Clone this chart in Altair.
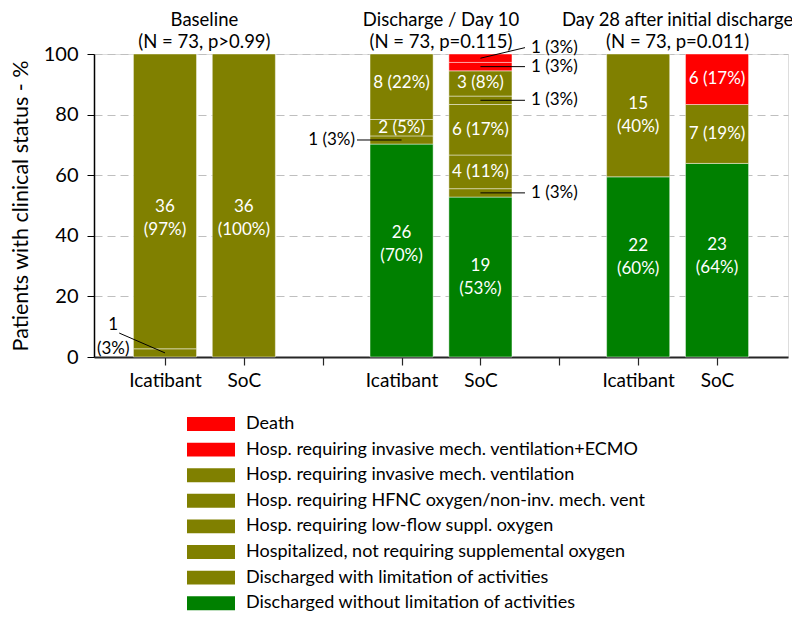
import altair as alt
import pandas as pd

# ---------------- data ----------------
panels = ["Baseline", "Discharge / Day 10", "Day 28 after initial discharge"]
panel_stats = ["(N = 73, p>0.99)", "(N = 73, p=0.115)", "(N = 73, p=0.011)"]
arms = ["Icatibant", "SoC"]
arm_n = [37, 36]

# categories, bottom of the stack -> top
categories = [
    "Discharged without limitation of activities",
    "Discharged with limitation of activities",
    "Hospitalized, not requiring supplemental oxygen",
    "Hosp. requiring low-flow suppl. oxygen",
    "Hosp. requiring HFNC oxygen/non-inv. mech. vent",
    "Hosp. requiring invasive mech. ventilation",
    "Hosp. requiring invasive mech. ventilation+ECMO",
    "Death",
]
cat_colors = ["#008000", "#808000", "#808000", "#808000",
              "#808000", "#808000", "#ff0000", "#ff0000"]

# patient counts per bar [panel][arm][category]
counts = [
    [[0, 0, 1, 36, 0, 0, 0, 0], [0, 0, 0, 36, 0, 0, 0, 0]],
    [[26, 1, 2, 8, 0, 0, 0, 0], [19, 1, 4, 6, 1, 3, 1, 1]],
    [[22, 15, 0, 0, 0, 0, 0, 0], [23, 7, 0, 0, 0, 0, 0, 6]],
]
# printed percentages
pcts = [
    [[0, 0, 3, 97, 0, 0, 0, 0], [0, 0, 0, 100, 0, 0, 0, 0]],
    [[70, 3, 5, 22, 0, 0, 0, 0], [53, 3, 11, 17, 3, 8, 3, 3]],
    [[60, 40, 0, 0, 0, 0, 0, 0], [64, 19, 0, 0, 0, 0, 0, 17]],
]
# label placement nudges (percentage points) for some in-bar labels
label_nudge = {(0, 0, 3): -5.6, (0, 1, 3): -4.3, (1, 0, 0): 2.1,
               (2, 0, 0): 3.1, (2, 1, 0): 1.2, (1, 0, 3): 1.2}

# callouts for small segments: panel, arm, category
callout_panel = [0, 1, 1, 1, 1, 1]
callout_arm = [0, 0, 1, 1, 1, 1]
callout_cat = [2, 1, 7, 6, 4, 1]
callout_side = ["stack", "left", "right", "right", "right", "right"]
callout_dx = [-0.58, -0.565, 0.565, 0.565, 0.565, 0.565]
callout_end_y = [7.9, None, 102.1, None, None, None]

FONT = "Lato"
BAR_HALF = 0.4

# ---------------- tables ----------------
rows = []
for p, panel in enumerate(panels):
    for a, arm in enumerate(arms):
        n = arm_n[a]
        xc = 3 * p + a + 1
        cum = 0
        for k, cat in enumerate(categories):
            c = counts[p][a][k]
            if c == 0:
                continue
            y0 = cum / n * 100
            cum += c
            y1 = cum / n * 100
            pc = pcts[p][a][k]
            two = pc >= 30
            label = f"{c}\n({pc}%)" if two else f"{c} ({pc}%)"
            ymid = (y0 + y1) / 2
            rows.append(dict(panel=panel, arm=arm, xc=xc,
                             x0=xc - BAR_HALF, x1=xc + BAR_HALF,
                             y0=y0, y1=y1, ymid=ymid,
                             ylab=ymid + label_nudge.get((p, a, k), 0.0),
                             count=c, pct=pc, category=cat, order=k,
                             label=label, lines=2 if two else 1))
bars = pd.DataFrame(rows)

crow = []
for i in range(len(callout_panel)):
    p, a, k = callout_panel[i], callout_arm[i], callout_cat[i]
    seg = bars[(bars.panel == panels[p]) & (bars.arm == arms[a]) &
               (bars.category == categories[k])].iloc[0]
    ey = callout_end_y[i] if callout_end_y[i] is not None else seg.ymid
    txt = (f"{seg['count']}\n({seg.pct}%)" if callout_side[i] == "stack"
           else f"{seg['count']} ({seg.pct}%)")
    crow.append(dict(xs=seg.xc, ys=seg.ymid, xe=seg.xc + callout_dx[i],
                     ye=ey, text=txt, side=callout_side[i]))
callouts = pd.DataFrame(crow)

titles = pd.DataFrame(dict(xc=[3 * p + 1.5 for p in range(len(panels))],
                           title=panels, stats=panel_stats))

# ---------------- chart ----------------
xscale = alt.Scale(domain=[0.1, 8.9], nice=False, zero=False)
yscale = alt.Scale(domain=[0, 100], nice=False)

label_expr = (f"datum.value % 3 == 1 ? '{arms[0]}' : "
              f"(datum.value % 3 == 2 ? '{arms[1]}' : '')")

x_axis = alt.Axis(values=list(range(1, 9)), labelExpr=label_expr,
                  title=None, grid=False, tickSize=8, tickColor="#262626",
                  tickWidth=1.2, domainColor="#262626", domainWidth=2,
                  labelFont=FONT, labelFontSize=19, labelColor="black",
                  labelPadding=15, labelBaseline="middle", labelFlush=False,
                  labelOverlap=False)
y_axis = alt.Axis(values=[0, 20, 40, 60, 80, 100], title="Patients with clinical status - %",
                  grid=True, gridDash=[8, 5], gridColor="#bfbfbf", gridWidth=1,
                  tickSize=7, tickColor="black", domainColor="black", domainWidth=1.5,
                  labelFont=FONT, labelFontSize=20, labelColor="black", labelPadding=9,
                  titleFont=FONT, titleFontSize=21.5, titleFontWeight="normal",
                  titleColor="black", titlePadding=11)

legend = alt.Legend(orient="none", legendX=108, legendY=361, title=None,
                    symbolType="M-4,-1.16H4V1.16H-4Z", symbolSize=144,
                    symbolStrokeWidth=0, symbolOpacity=1,
                    labelFont=FONT, labelFontSize=18, labelColor="black",
                    labelOffset=26, labelLimit=700, rowPadding=7.6, padding=0)

bar_layer = alt.Chart(bars).mark_rect(stroke="white", strokeWidth=1,
                                      strokeOpacity=0.45).encode(
    x=alt.X("x0:Q", scale=xscale, axis=x_axis),
    x2="x1:Q",
    y=alt.Y("y0:Q", scale=yscale, axis=y_axis),
    y2="y1:Q",
    color=alt.Color("category:N",
                    scale=alt.Scale(domain=categories[::-1], range=cat_colors[::-1]),
                    legend=legend),
)

inside1 = alt.Chart(bars).transform_filter("datum.count >= 2 && datum.lines == 1").mark_text(
    font=FONT, fontSize=17, color="white",
    baseline="middle", align="center").encode(
    x=alt.X("xc:Q", scale=xscale), y=alt.Y("ylab:Q", scale=yscale), text="label:N")
inside2 = alt.Chart(bars).transform_filter("datum.count >= 2 && datum.lines == 2").mark_text(
    font=FONT, fontSize=17, color="white", lineBreak="\n", lineHeight=23,
    baseline="middle", align="center", dy=-11.5).encode(
    x=alt.X("xc:Q", scale=xscale), y=alt.Y("ylab:Q", scale=yscale), text="label:N")

rules = alt.Chart(callouts).mark_rule(color="black", strokeWidth=1).encode(
    x=alt.X("xs:Q", scale=xscale), x2="xe:Q",
    y=alt.Y("ys:Q", scale=yscale), y2="ye:Q")

txt_right = alt.Chart(callouts).transform_filter("datum.side == 'right'").mark_text(
    font=FONT, fontSize=17, color="black", align="left", baseline="middle", dx=6).encode(
    x=alt.X("xe:Q", scale=xscale), y=alt.Y("ye:Q", scale=yscale), text="text:N")
txt_left = alt.Chart(callouts).transform_filter("datum.side == 'left'").mark_text(
    font=FONT, fontSize=17, color="black", align="right", baseline="middle", dx=-2).encode(
    x=alt.X("xe:Q", scale=xscale), y=alt.Y("ye:Q", scale=yscale), text="text:N")
txt_stack = alt.Chart(callouts).transform_filter("datum.side == 'stack'").mark_text(
    font=FONT, fontSize=17, color="black", align="center", baseline="middle",
    dx=-6, dy=-8, lineBreak="\n", lineHeight=24).encode(
    x=alt.X("xe:Q", scale=xscale), y=alt.Y("ye:Q", scale=yscale), text="text:N")

t1 = alt.Chart(titles).mark_text(font=FONT, fontSize=18.5, color="black",
                                  baseline="middle", align="center").encode(
    x=alt.X("xc:Q", scale=xscale), y=alt.value(-34), text="title:N")
t2 = alt.Chart(titles).mark_text(font=FONT, fontSize=18.5, color="black",
                                  baseline="middle", align="center").encode(
    x=alt.X("xc:Q", scale=xscale), y=alt.value(-12), text="stats:N")

chart = alt.layer(bar_layer, inside1, inside2, rules, txt_right, txt_left, txt_stack,
                  t1, t2).properties(
    width=694, height=303,
    autosize=alt.AutoSizeParams(type="none"),
    padding={"left": 86, "top": 46, "right": 4, "bottom": 256},
).configure_view(stroke=None).configure(font=FONT)

chart.save("out.html", embed_options={"renderer": "svg", "actions": False})
